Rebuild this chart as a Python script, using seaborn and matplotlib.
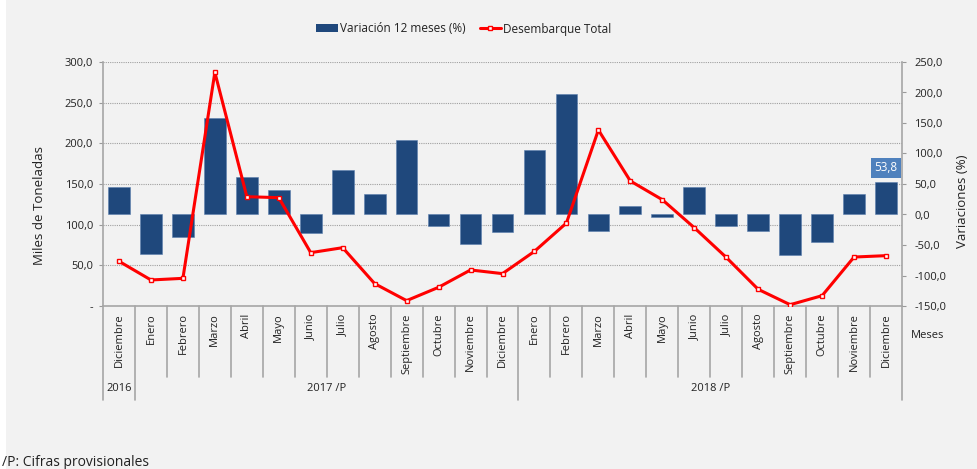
import numpy as np
import pandas as pd
import seaborn as sns
import matplotlib.pyplot as plt
from matplotlib.lines import Line2D
from matplotlib.patches import Patch, Rectangle
import matplotlib.transforms as mtransforms

# Datos
meses = ["Diciembre", "Enero", "Febrero", "Marzo", "Abril", "Mayo", "Junio",
         "Julio", "Agosto", "Septiembre", "Octubre", "Noviembre", "Diciembre",
         "Enero", "Febrero", "Marzo", "Abril", "Mayo", "Junio",
         "Julio", "Agosto", "Septiembre", "Octubre", "Noviembre", "Diciembre"]
anios = ["2016", "2017 /P", "2018 /P"]
anio_inicio = [0, 1, 13]
anio_fin = [0, 12, 24]

desembarque = [55.0, 32.0, 34.0, 287.3, 134.4, 133.2, 65.6, 71.7, 27.5, 6.6,
               23.0, 44.3, 39.8, 67.2, 102.0, 216.4, 153.7, 130.7, 96.3, 59.8,
               20.5, 1.6, 12.7, 60.2, 61.9]
variacion = [45.8, -65.0, -36.9, 159.0, 60.8, 40.9, -30.8, 73.5, 33.2, 122.6,
             -18.6, -49.0, -28.6, 106.0, 197.7, -27.0, 13.4, -3.7, 45.8, -18.6,
             -27.0, -67.2, -44.6, 33.8, 53.8]

ticks_izq = [0, 50, 100, 150, 200, 250, 300]
etiquetas_izq = ["-", "50,0", "100,0", "150,0", "200,0", "250,0", "300,0"]
ticks_der = [-150, -100, -50, 0, 50, 100, 150, 200, 250]
etiquetas_der = ["-150,0", "-100,0", "-50,0", "0,0", "50,0", "100,0", "150,0", "200,0", "250,0"]

azul = "#1f487c"
rojo = "#ff0000"
gris_txt = "#222222"
fondo = "#f2f2f2"

df = pd.DataFrame({"idx": np.arange(len(meses)), "var": variacion, "des": desembarque})

sns.set_theme(style="white")
plt.rcParams["font.family"] = ["Open Sans", "DejaVu Sans"]

W, H = 977, 469
fig = plt.figure(figsize=(W / 100, H / 100), dpi=100, facecolor=fondo)
fig.patches.append(Rectangle((0, 0), 6 / W, 1, transform=fig.transFigure,
                             facecolor="white", edgecolor="none", zorder=-1))

x0, x1, y0, y1 = 103, 902, 306, 62
ax = fig.add_axes([x0 / W, 1 - y0 / H, (x1 - x0) / W, (y0 - y1) / H])
ax.set_facecolor(fondo)

# barras: variación (eje derecho)
ax2 = ax.twinx()
sns.barplot(data=df, x="idx", y="var", ax=ax2, color=azul, saturation=1,
            width=0.68, edgecolor="#5a7fae", linewidth=0.4)

# línea: desembarque (escala izquierda), por encima de las barras
ax3 = ax2.twinx()
sns.lineplot(data=df, x="idx", y="des", ax=ax3, color=rojo, linewidth=2.2,
             marker="s", markersize=3.5, markerfacecolor="white",
             markeredgecolor=rojo, markeredgewidth=1)
ax3.set_ylim(0, 300)
ax3.set_xlim(-0.5, len(meses) - 0.5)
ax3.set_yticks([])
ax3.set_ylabel("")
ax3.set_xlabel("")

# eje izquierdo: cuadrícula
ax.set_ylim(0, 300)
ax.set_xlim(-0.5, len(meses) - 0.5)
ax.yaxis.tick_left()
ax.set_yticks(ticks_izq)
ax.set_yticklabels(etiquetas_izq, fontsize=8, color=gris_txt)
ax.yaxis.grid(True, linestyle=(0, (1, 1)), color="#a0a0a0", linewidth=0.8)
ax.tick_params(axis="y", length=3, width=0.8, color="#999999", pad=4, left=True)
ax.set_ylabel("Miles de Toneladas", fontsize=9.5, color=gris_txt)
ax.yaxis.set_label_coords(-0.071, 0.41)

# eje derecho
ax2.yaxis.tick_right()
ax2.yaxis.set_label_position("right")
ax2.set_ylim(-150, 250)
ax2.set_xlim(-0.5, len(meses) - 0.5)
ax2.set_yticks(ticks_der)
ax2.set_yticklabels(etiquetas_der, fontsize=8, color=gris_txt)
ax2.tick_params(axis="y", length=3, width=0.8, color="#999999", pad=6)
ax2.set_ylabel("Variaciones (%)", fontsize=9.5, color=gris_txt)
ax2.yaxis.set_label_coords(1.068, 0.43)
ax2.set_xlabel("")

# etiqueta del último valor
ax2.annotate("53,8", xy=(len(meses) - 1, variacion[-1]), xytext=(0, 10),
             textcoords="offset points", ha="center", va="center",
             fontsize=8.5, color="white",
             bbox=dict(boxstyle="square,pad=0.3", facecolor="#4f81bd", edgecolor="none"))

for a in (ax, ax2, ax3):
    for s in a.spines.values():
        s.set_visible(False)
    a.set_xticks([])
ax.spines["left"].set_visible(True)
ax.spines["left"].set_color("#a6a6a6")
ax.spines["bottom"].set_visible(True)
ax.spines["bottom"].set_color("#a6a6a6")
ax2.spines["right"].set_visible(True)
ax2.spines["right"].set_color("#a6a6a6")
for a in (ax, ax2):
    a.spines["left"].set_linewidth(1.2)
    a.spines["right"].set_linewidth(1.2)
    a.spines["bottom"].set_linewidth(1.2)

# eje de categorías con separadores
trans = mtransforms.blended_transform_factory(ax.transData, ax.transAxes)
y_mes = -0.291
y_anio = -0.385
for i, m in enumerate(meses):
    ax.text(i, -0.03, m, rotation=90, ha="center", va="top", fontsize=8,
            color=gris_txt, transform=trans)
limites_largos = [-0.5] + [f + 0.5 for f in anio_fin]
for b in np.arange(-0.5, len(meses), 1.0):
    y_fin = y_anio if b in limites_largos else y_mes
    ax.plot([b, b], [0, y_fin], color="#a6a6a6", linewidth=1.2,
            transform=trans, clip_on=False)
for nombre, a0, a1 in zip(anios, anio_inicio, anio_fin):
    ax.text((a0 + a1) / 2, -0.34, nombre, ha="center", va="center",
            fontsize=8, color=gris_txt, transform=trans)

fig.text(928 / W, 1 - 336 / H, "Meses", ha="center", va="center",
         fontsize=8, color=gris_txt)

# leyenda
handles = [Patch(facecolor=azul, edgecolor="none"),
           Line2D([0], [0], color=rojo, linewidth=2.2, marker="s", markersize=3.5,
                  markerfacecolor="white", markeredgecolor=rojo)]
fig.legend(handles, ["Variación 12 meses (%)", "Desembarque Total"],
           loc="center", bbox_to_anchor=(464 / W, 1 - 29 / H), ncol=2,
           frameon=False, fontsize=8.5, handlelength=1.8, handletextpad=0.2,
           columnspacing=1.2, labelcolor=gris_txt)

fig.text(2 / W, 1 - 462 / H, "/P: Cifras provisionales", ha="left", va="center",
         fontsize=10, color=gris_txt)

fig.savefig("out.png", dpi=100, facecolor=fondo)
